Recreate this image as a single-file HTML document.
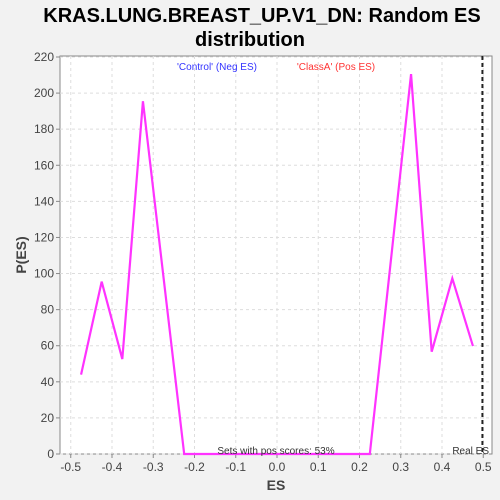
<!DOCTYPE html>
<html><head><meta charset="utf-8"><style>
body{margin:0;background:#f2f2f2;font-family:"Liberation Sans",sans-serif}
svg{display:block}
</style></head><body>
<svg id="c" width="500" height="500" xmlns="http://www.w3.org/2000/svg">
<rect x="0" y="0" width="500" height="500" fill="#f2f2f2"/>
<text x="262" y="22" text-anchor="middle" font-size="20" font-weight="bold" fill="#000">KRAS.LUNG.BREAST_UP.V1_DN: Random ES</text>
<text x="250" y="46" text-anchor="middle" font-size="20" font-weight="bold" fill="#000">distribution</text>
<rect x="60" y="56" width="432" height="398" fill="#fff" stroke="#888"/>
<g id="grid"></g><g id="axes"></g><g id="series"></g>
<text x="217" y="70" text-anchor="middle" font-size="10" fill="#3333ff">'Control' (Neg ES)</text>
<text x="336" y="70" text-anchor="middle" font-size="10" fill="#ff3333">'ClassA' (Pos ES)</text>
<text x="276" y="454" text-anchor="middle" font-size="10" fill="#333">Sets with pos scores: 53%</text>
<text x="489" y="454" text-anchor="end" font-size="10" fill="#333">Real ES</text>
<text x="276" y="490" text-anchor="middle" font-size="14" font-weight="bold" fill="#444">ES</text>
<text transform="translate(26,255) rotate(-90)" text-anchor="middle" font-size="14" font-weight="bold" fill="#444">P(ES)</text>
</svg>
<script>
const esValues=[-0.475,-0.425,-0.375,-0.325,-0.275,-0.225,0.225,0.275,0.325,0.375,0.425,0.475];
const densities=[44,95.5,52.6,195.5,97.7,0,0,105,210.5,56.7,97.3,59.8];
const xTicks=[-0.5,-0.4,-0.3,-0.2,-0.1,0.0,0.1,0.2,0.3,0.4,0.5];
const yTicks=[0,20,40,60,80,100,120,140,160,180,200,220];
const realES=0.498;
const NS="http://www.w3.org/2000/svg";
const X=v=>277+v*412.5, Y=v=>454-v*(397/220);
function mk(t,a,p){const e=document.createElementNS(NS,t);for(const k in a)e.setAttribute(k,a[k]);p.appendChild(e);return e;}
const g=document.getElementById('grid'),ax=document.getElementById('axes'),s=document.getElementById('series');
xTicks.forEach(t=>{
const l=mk('line',{x1:X(t),x2:X(t),y1:56,y2:454,stroke:'#ddd','stroke-dasharray':'3,3'},g);


mk('line',{x1:X(t),x2:X(t),y1:454,y2:458,stroke:'#888'},ax);
const tx=mk('text',{x:X(t),y:471,'text-anchor':'middle','font-size':12,fill:'#444'},ax);
tx.textContent=t.toFixed(1);


});
yTicks.forEach(t=>{
const l=mk('line',{x1:60,x2:492,y1:Y(t),y2:Y(t),stroke:'#ddd','stroke-dasharray':'3,3'},g);


mk('line',{x1:56,x2:60,y1:Y(t),y2:Y(t),stroke:'#888'},ax);
const tx=mk('text',{x:54,y:Y(t)+4,'text-anchor':'end','font-size':12,fill:'#444'},ax);
tx.textContent=t;


});
const pl=mk('polyline',{points:esValues.map((v,i)=>X(v)+','+Y(densities[i])).join(' '),fill:'none',stroke:'#ff33ff','stroke-width':2.2},s);


const rl=mk('line',{x1:X(realES),x2:X(realES),y1:56,y2:454,stroke:'#222','stroke-width':2,'stroke-dasharray':'4,3'},s);


</script>
</body></html>
